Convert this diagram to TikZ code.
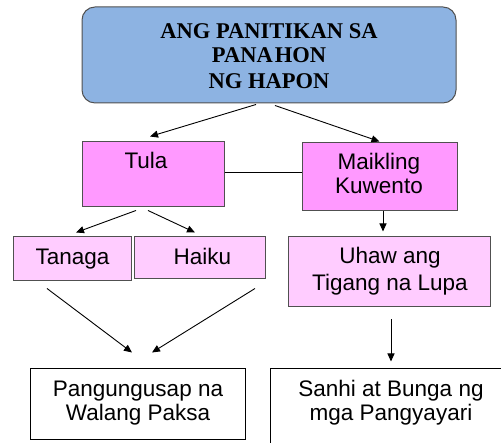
\documentclass[tikz,border=0pt]{standalone}
\usepackage{fontspec}
\setmainfont{Liberation Sans}
\newfontfamily\titlefont{Liberation Serif}
\usetikzlibrary{arrows.meta,calc}
\definecolor{topblue}{HTML}{8DB3E2}
\definecolor{pinkA}{HTML}{FF99FF}
\definecolor{pinkB}{HTML}{FFCCFF}
\definecolor{edgegray}{HTML}{505050}
\tikzset{
  box/.style={draw=edgegray, line width=1pt, inner sep=0pt},
  plainbox/.style={draw=black, line width=1pt, inner sep=0pt, fill=white},
  txt/.style={anchor=base, inner sep=0pt, font=\fontsize{22.5}{24}\selectfont},
  ttl/.style={anchor=base, inner sep=0pt, font=\titlefont\bfseries\fontsize{22.5}{24}\selectfont},
  arr/.style={line width=0.9pt, -{Triangle[length=8pt,width=7pt]}},
  link/.style={line width=0.9pt}
}
\begin{document}
\begin{tikzpicture}[x=1pt,y=1pt]
\useasboundingbox (0,0) rectangle (501,443);
\clip (0,0) rectangle (501,443);
% boxes
\node[box, fill=topblue, rounded corners=13pt, minimum width=374pt, minimum height=96pt] (top) at (269,388) {};
\node[box, fill=pinkA, minimum width=142pt, minimum height=65pt] (tula) at (153,268.5) {};
\node[box, fill=pinkA, minimum width=155pt, minimum height=68pt] (maik) at (379.5,266) {};
\node[box, fill=pinkB, minimum width=118pt, minimum height=44pt] (tanaga) at (72,184) {};
\node[box, fill=pinkB, minimum width=131pt, minimum height=42pt] (haiku) at (199.5,185) {};
\node[box, fill=pinkB, minimum width=202pt, minimum height=70pt] (uhaw) at (389,171) {};
\node[plainbox, minimum width=215pt, minimum height=71pt] (pang) at (137.5,38.5) {};
\node[plainbox, minimum width=242pt, minimum height=86pt] (sanhi) at (391,31) {};
% texts
\node[ttl] (t1) at (269,404) {ANG PANITIKAN SA};
\node[ttl] (t2) at (269,380) {PANA\kern2pt HON};
\node[ttl] (t3) at (269,354) {NG HAPON};
\node[txt] (tulat) at (146,274) {Tula};
\node[txt] (maik1) at (379,273) {Maikling};
\node[txt] (maik2) at (379,249) {Kuwento};
\node[txt] (tanagat) at (72.5,178) {Tanaga};
\node[txt] (haikut) at (202.5,178) {Haiku};
\node[txt] (uhaw1) at (390,179) {Uhaw ang};
\node[txt] (uhaw2) at (390,152) {Tigang na Lupa};
\node[txt] (pang1) at (138,46) {Pangungusap na};
\node[txt] (pang2) at (138,22) {Walang Paksa};
\node[txt] (sanhi1) at (391,46) {Sanhi at Bunga ng};
\node[txt] (sanhi2) at (391,22) {mga Pangyayari};
% connectors
\draw[arr] ($(top.south)+(-13,-1)$) -- ($(tula.north)+(-3,5)$);
\draw[arr] ($(top.south)+(6,-2)$) -- ($(maik.north)+(0,1)$);
\draw[link] ($(tula.east)+(0,2.5)$) -- ($(maik.west)+(0,5)$);
\draw[arr] ($(tula.south)+(-17,-3)$) -- ($(tanaga.north)+(4,4)$);
\draw[arr] ($(tula.south)+(-5,-3)$) -- ($(haiku.north)+(-4.5,4)$);
\draw[arr] ($(maik.south)+(3.5,0)$) -- ($(uhaw.north)+(-6,5)$);
\draw[arr] ($(tanaga.south)+(-25,-7)$) -- ($(pang.north)+(-5.5,16)$);
\draw[arr] ($(haiku.south)+(55.5,-9)$) -- ($(pang.north)+(14.5,16)$);
\draw[arr] ($(uhaw.south)+(2,-12)$) -- ($(sanhi.north)+(0,7)$);
\end{tikzpicture}
\end{document}
